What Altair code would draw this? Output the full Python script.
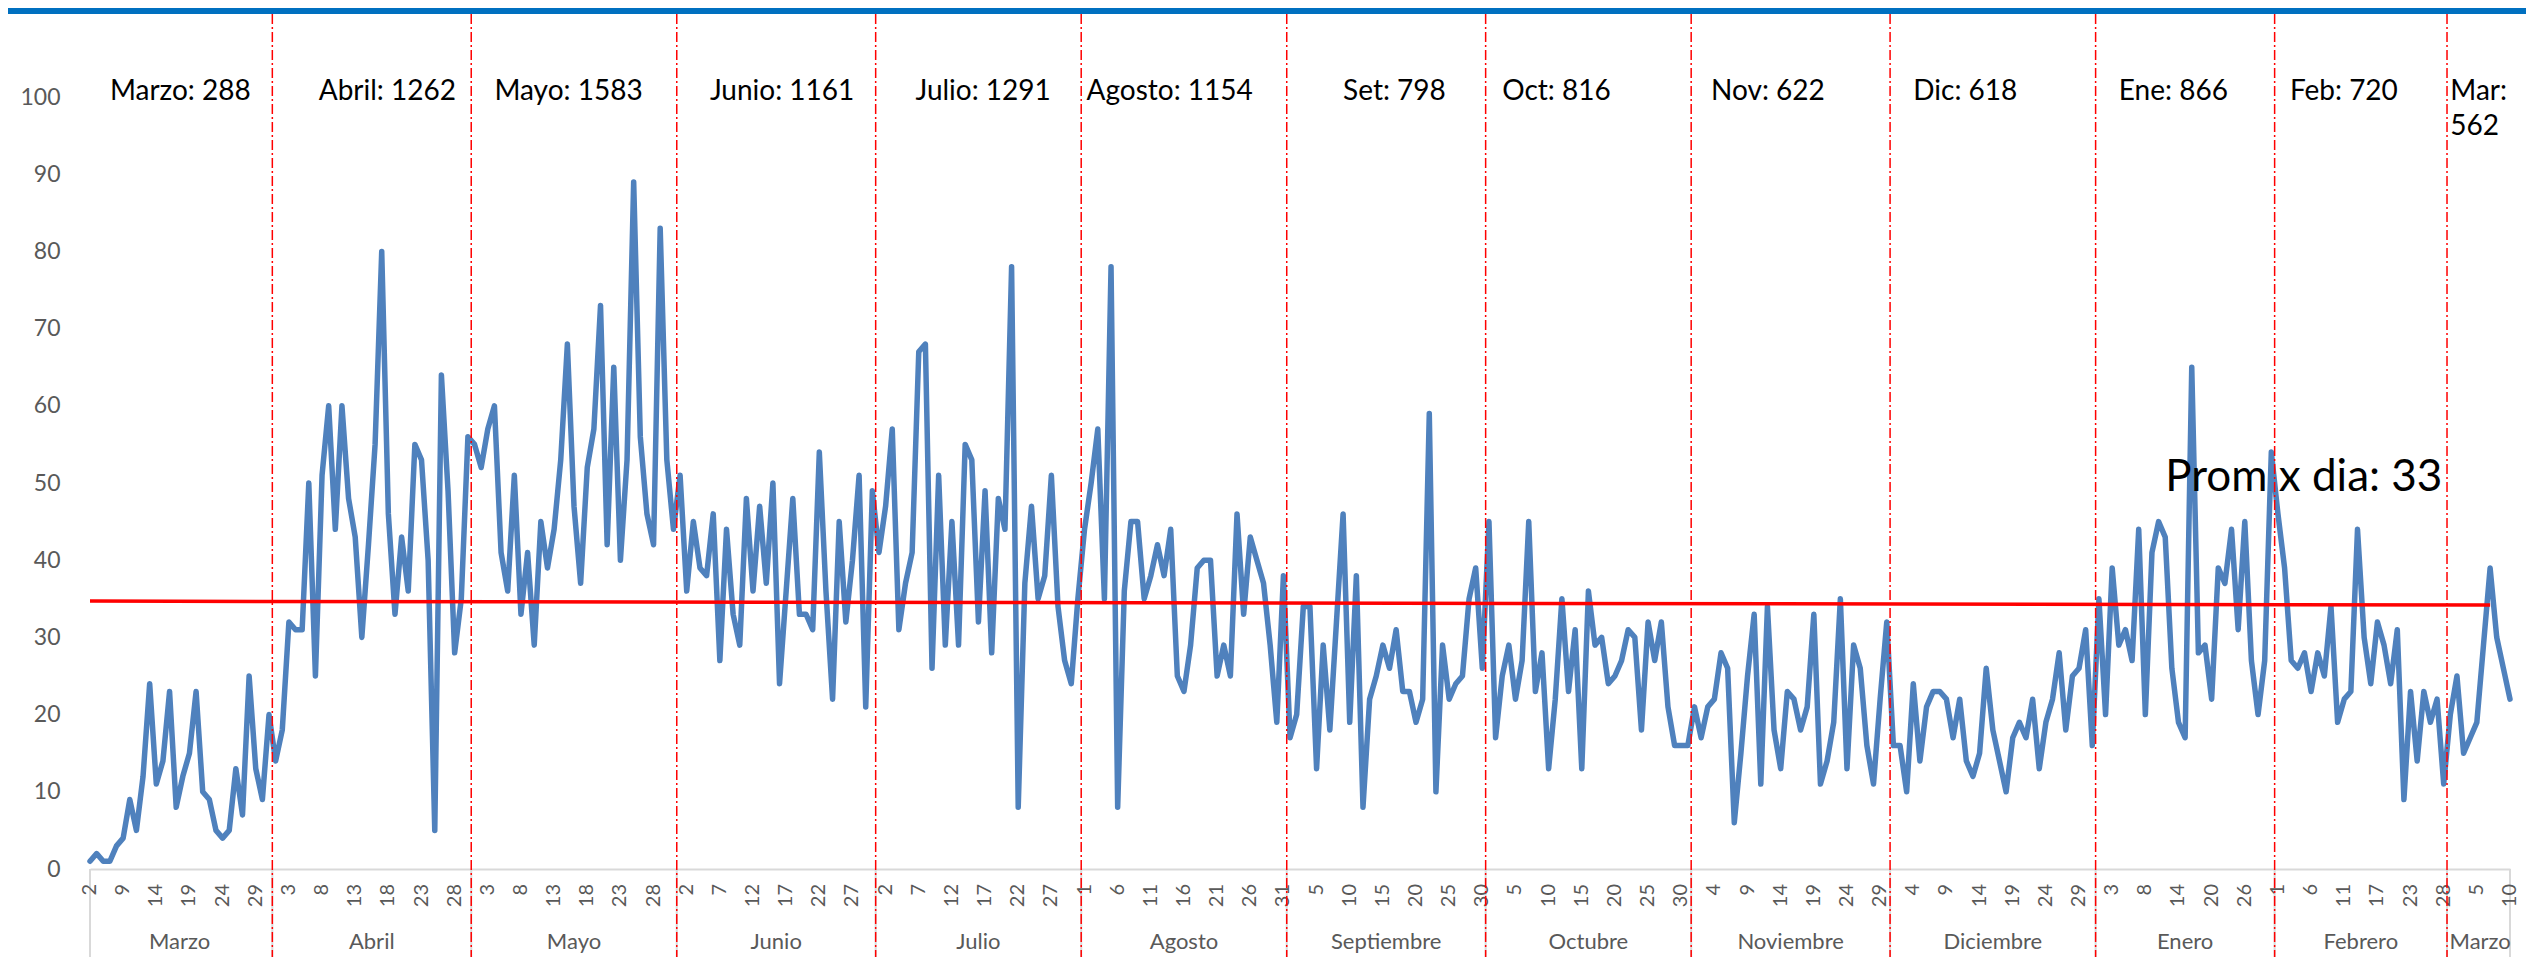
import altair as alt
import pandas as pd

# ---------------- data ----------------
month_names = ["Marzo", "Abril", "Mayo", "Junio", "Julio", "Agosto", "Septiembre",
               "Octubre", "Noviembre", "Diciembre", "Enero", "Febrero", "Marzo"]
month_totals = ["Marzo: 288", "Abril: 1262", "Mayo: 1583", "Junio: 1161", "Julio: 1291",
                "Agosto: 1154", "Set: 798", "Oct: 816", "Nov: 622", "Dic: 618",
                "Ene: 866", "Feb: 720", "Mar:\n562"]

days_mar20 = [2, 3, 4, 5, 6] + list(range(9, 32))
days_apr = list(range(1, 31))
days_may = list(range(1, 32))
days_jun = list(range(1, 31))
days_jul = list(range(1, 32))
days_aug = list(range(1, 32))
days_sep = list(range(1, 31))
days_oct = list(range(1, 32))
days_nov = list(range(1, 31))
days_dec = list(range(1, 32))
days_jan = list(range(1, 10)) + list(range(11, 17)) + list(range(18, 24)) + list(range(25, 31))
days_feb = list(range(1, 14)) + list(range(15, 21)) + list(range(22, 29))
days_mar21 = list(range(1, 11))

vals_mar20 = [1, 2, 1, 1, 3, 4, 9, 5, 12, 24, 11, 14, 23, 8, 12, 15, 23, 10, 9, 5,
              4, 5, 13, 7, 25, 13, 9, 20]
vals_apr = [14, 18, 32, 31, 31, 50, 25, 51, 60, 44, 60, 48, 43, 30, 42, 55, 80, 46, 33, 43,
            36, 55, 53, 40, 5, 64, 49, 28, 35, 56]
vals_may = [55, 52, 57, 60, 41, 36, 51, 33, 41, 29, 45, 39, 44, 53, 68, 47, 37, 52, 57, 73,
            42, 65, 40, 53, 89, 56, 46, 42, 83, 53, 44]
vals_jun = [51, 36, 45, 39, 38, 46, 27, 44, 33, 29, 48, 36, 47, 37, 50, 24, 36, 48, 33, 33,
            31, 54, 36, 22, 45, 32, 40, 51, 21, 49]
vals_jul = [41, 47, 57, 31, 37, 41, 67, 68, 26, 51, 29, 45, 29, 55, 53, 32, 49, 28, 48, 44,
            78, 8, 37, 47, 35, 38, 51, 34, 27, 24, 35]
vals_aug = [44, 50, 57, 35, 78, 8, 36, 45, 45, 35, 38, 42, 38, 44, 25, 23, 29, 39, 40, 40,
            25, 29, 25, 46, 33, 43, 40, 37, 29, 19, 38]
vals_sep = [17, 20, 34, 34, 13, 29, 18, 32, 46, 19, 38, 8, 22, 25, 29, 26, 31, 23, 23, 19,
            22, 59, 10, 29, 22, 24, 25, 35, 39, 26]
vals_oct = [45, 17, 25, 29, 22, 27, 45, 23, 28, 13, 22, 35, 23, 31, 13, 36, 29, 30, 24, 25,
            27, 31, 30, 18, 32, 27, 32, 21, 16, 16, 16]
vals_nov = [21, 17, 21, 22, 28, 26, 6, 15, 25, 33, 11, 34, 18, 13, 23, 22, 18, 21, 33, 11,
            14, 19, 35, 13, 29, 26, 16, 11, 22, 32]
vals_dec = [16, 16, 10, 24, 14, 21, 23, 23, 22, 17, 22, 14, 12, 15, 26, 18, 14, 10, 17, 19,
            17, 22, 13, 19, 22, 28, 18, 25, 26, 31, 16]
vals_jan = [35, 20, 39, 29, 31, 27, 44, 20, 41, 45, 43, 26, 19, 17, 65, 28, 29, 22, 39, 37,
            44, 31, 45, 27, 20, 27, 54]
vals_feb = [46, 39, 27, 26, 28, 23, 28, 25, 34, 19, 22, 23, 44, 30, 24, 32, 29, 24, 31, 9,
            23, 14, 23, 19, 22, 11]
vals_mar21 = [20, 25, 15, 17, 19, 29, 39, 30, 26, 22]

avg_line_x = [0, 362]
avg_line_y = [34.7, 34.2]
avg_label = "Prom x dia: 33"

# layout: shift (in days) of each month-total text box from its month start
total_label_shift = [3, 6.5, 3, 4.5, 5.5, 0.3, 8, 2, 2.5, 3, 3, 1.8, 0]

# ---------------- assemble ----------------
month_days = [days_mar20, days_apr, days_may, days_jun, days_jul, days_aug, days_sep,
              days_oct, days_nov, days_dec, days_jan, days_feb, days_mar21]
month_vals = [vals_mar20, vals_apr, vals_may, vals_jun, vals_jul, vals_aug, vals_sep,
              vals_oct, vals_nov, vals_dec, vals_jan, vals_feb, vals_mar21]

idx, vals, days, starts, ends = [], [], [], [], []
for d, v in zip(month_days, month_vals):
    starts.append(len(idx))
    for dd, vv in zip(d, v):
        idx.append(len(idx))
        vals.append(vv)
        days.append(dd)
    ends.append(len(idx) - 1)
N = len(idx)
LAST = N - 1

W, H = 2420, 772
FONT = "Lato"
GREY = "#595959"
xs = alt.Scale(domain=[0, LAST], nice=False, zero=False)
ys = alt.Scale(domain=[0, 100], nice=False, zero=True)

tick_vals = list(range(0, N, 5))

line_df = pd.DataFrame({"idx": idx, "value": vals})
tick_df = pd.DataFrame({"idx": tick_vals, "t": [str(days[i]) for i in tick_vals]})
sep_df = pd.DataFrame({"idx": [s - 0.5 for s in starts[1:]]})
grey_df = pd.DataFrame({"idx": [0] + [s - 0.5 for s in starts[1:]] + [LAST]})
avg_df = pd.DataFrame({"idx": avg_line_x, "value": avg_line_y})
tot_df = pd.DataFrame({"idx": [s + sh for s, sh in zip(starts, total_label_shift)],
                       "value": [102.5] * len(starts), "t": month_totals})
name_df = pd.DataFrame({"idx": [(s + e) / 2 for s, e in zip(starts, ends)], "t": month_names})
prom_df = pd.DataFrame({"idx": [313], "value": [49], "t": [avg_label]})
dummy = pd.DataFrame({"a": [0]})

x_axis = alt.Axis(values=tick_vals, labels=False, domainColor="#D9D9D9", domainWidth=2,
                  ticks=False, grid=False, title=None)
y_axis = alt.Axis(values=list(range(0, 101, 10)), labelFontSize=23, labelColor=GREY,
                  labelFont=FONT, labelPadding=30, domain=False, ticks=False, grid=False,
                  title=None, labelFlush=False)

X = alt.X("idx:Q", scale=xs)
Y = alt.Y("value:Q", scale=ys)

data_line = alt.Chart(line_df).mark_line(color="#4F81BD", strokeWidth=5.5,
                                         strokeJoin="round", strokeCap="round").encode(
    x=alt.X("idx:Q", scale=xs, axis=x_axis),
    y=alt.Y("value:Q", scale=ys, axis=y_axis))

top_bar = alt.Chart(dummy).mark_rect(color="#0070C0").encode(
    x=alt.value(-82), x2=alt.value(W + 16), y=alt.value(-89), y2=alt.value(-83))

grey_sep = alt.Chart(grey_df).mark_rule(color="#D9D9D9", strokeWidth=2).encode(
    x=X, y=alt.value(H), y2=alt.value(H + 88))

ticks_txt = alt.Chart(tick_df).mark_text(angle=270, align="right", baseline="middle",
                                         fontSize=20, font=FONT, color=GREY).encode(
    x=X, y=alt.value(H + 15), text="t:N")

avg = alt.Chart(avg_df).mark_line(color="#FF0000", strokeWidth=3.5).encode(x=X, y=Y)

red_sep = alt.Chart(sep_df).mark_rule(color="#FF0000", strokeWidth=1.5,
                                      strokeDash=[10, 3, 2, 3]).encode(
    x=X, y=alt.value(-83), y2=alt.value(H + 88))

totals = alt.Chart(tot_df).mark_text(align="left", baseline="top", fontSize=28, font=FONT,
                                     color="black", lineBreak="\n", lineHeight=35).encode(
    x=X, y=Y, text="t:N")

names = alt.Chart(name_df).mark_text(align="center", baseline="middle", fontSize=22,
                                     font=FONT, color=GREY).encode(
    x=X, y=alt.value(H + 73), text="t:N")

prom = alt.Chart(prom_df).mark_text(align="left", baseline="alphabetic", fontSize=44,
                                    font=FONT, color="black").encode(
    x=X, y=Y, text="t:N")

chart = alt.layer(data_line, top_bar, grey_sep, ticks_txt, avg, red_sep, totals, names,
                  prom).properties(
    width=W, height=H,
    autosize=alt.AutoSizeParams(type="none"),
    padding={"left": 82, "top": 89, "right": 16, "bottom": 88},
).configure(background="white").configure_view(stroke=None)

chart.save("out.html", embed_options={"renderer": "svg", "actions": False})
